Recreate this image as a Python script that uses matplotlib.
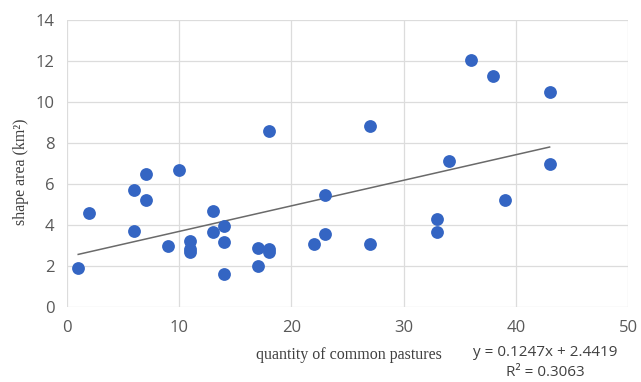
import numpy as np
import matplotlib.pyplot as plt

# pastures count vs shape area
pastures = [1, 2, 6, 6, 7, 7, 9, 10, 11, 11, 11, 13, 13, 14, 14, 14,
            17, 17, 18, 18, 18, 22, 23, 23, 27, 27, 33, 33, 34, 36, 38, 39, 43, 43]
area = [1.9, 4.6, 5.7, 3.7, 5.2, 6.5, 3.0, 6.7, 3.2, 2.85, 2.7, 4.7, 3.65, 3.95, 3.15, 1.6,
        2.9, 2.0, 2.85, 2.7, 8.6, 3.05, 5.45, 3.55, 8.85, 3.05, 4.3, 3.65, 7.1, 12.05, 11.25, 5.2, 10.5, 7.0]
slope, intercept = 0.1247, 2.4419
r2 = 0.3063

fig = plt.figure(figsize=(6.41, 3.82), dpi=100)
ax = fig.add_axes([0.1045, 0.1963, 0.8755, 0.7513])

ax.scatter(pastures, area, s=85, color='#3465c3', zorder=3, linewidths=0)
xs = np.array([min(pastures), max(pastures)])
ax.plot(xs, slope * xs + intercept, color='#6a6a6a', lw=1.1, zorder=2)

ax.set_xlim(0, 50)
ax.set_ylim(0, 14)
ax.set_xticks(range(0, 51, 10))
ax.set_yticks(range(0, 15, 2))
ax.grid(True, color='#dcdcdc', lw=0.9)
ax.set_axisbelow(True)
for s in ax.spines.values():
    s.set_visible(False)
ax.tick_params(length=0, labelsize=12, colors='#595959', pad=9)
for lab in ax.get_xticklabels() + ax.get_yticklabels():
    lab.set_fontfamily('Open Sans')

fig.text(0.545, 0.07, 'quantity of common pastures', ha='center', va='center',
         fontsize=11.5, family='Liberation Serif', color='#404040')
fig.text(0.032, 0.55, 'shape area (km²)', ha='center', va='center', rotation=90,
         fontsize=11.5, family='Liberation Serif', color='#404040')
fig.text(0.85, 0.078, f'y = {slope}x + {intercept}', ha='center', va='center',
         fontsize=11, family='Open Sans', color='#404040')
fig.text(0.85, 0.025, f'R² = {r2}', ha='center', va='center',
         fontsize=11, family='Open Sans', color='#404040')

fig.savefig('out.png', dpi=100)
